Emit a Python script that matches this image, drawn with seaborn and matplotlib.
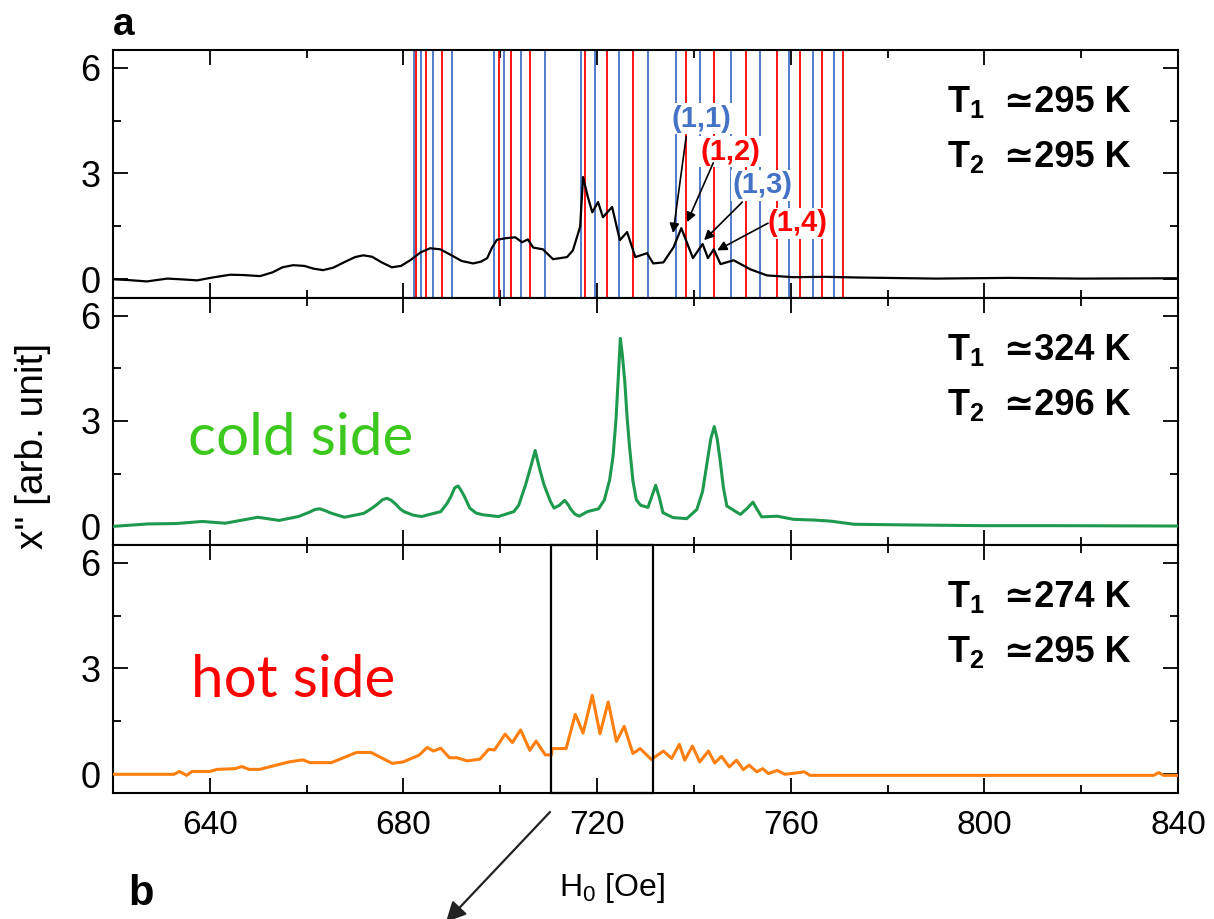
import matplotlib
matplotlib.use("Agg")
import matplotlib.pyplot as plt
import matplotlib.transforms as mtransforms
from matplotlib.patches import Rectangle, FancyArrowPatch
from matplotlib.ticker import MultipleLocator
from matplotlib import font_manager
import seaborn as sns
import pandas as pd

# ---------------- data ----------------
# Field axis (Oe) and absorption spectra chi'' (arb. unit)
h_room = [620, 623.0, 627.0, 631.2, 634.0, 637.4, 640.5, 644.2, 647.0, 650.4, 653.0,
          655.0, 657.2, 659.5, 661.5, 663.4, 665.5, 668.0, 670.0, 671.7, 673.5, 675.5,
          677.6, 679.5, 681.4, 683.5, 685.5, 687.6, 690.2, 692.0, 694.4, 696.0, 697.3,
          698.3, 699.3, 701.4, 703.1, 704.5, 705.7, 706.8, 708.8, 710.9, 713.8, 715.0,
          716.5, 717.1, 718.1, 719.0, 720.2, 721.2, 723.1, 724.7, 726.2, 727.9, 730.3,
          731.6, 733.7, 735.8, 737.4, 739.8, 741.8, 742.9, 744.1, 745.5, 748.2, 751.7,
          755.1, 760.5, 767.0, 774.3, 790.0, 805.0, 820.0, 840.0]
chi_room = [0.00, -0.02, -0.06, 0.02, 0.00, -0.03, 0.05, 0.13, 0.12, 0.09, 0.20,
            0.34, 0.40, 0.38, 0.30, 0.26, 0.33, 0.50, 0.63, 0.68, 0.64, 0.48,
            0.34, 0.38, 0.54, 0.76, 0.88, 0.85, 0.66, 0.52, 0.45, 0.50, 0.60,
            0.90, 1.12, 1.17, 1.19, 1.05, 1.13, 0.90, 0.85, 0.57, 0.63, 0.82,
            1.49, 2.90, 2.33, 1.90, 2.19, 1.76, 2.05, 1.11, 1.34, 0.63, 0.74,
            0.45, 0.48, 0.91, 1.45, 0.60, 1.00, 0.60, 0.85, 0.43, 0.54, 0.28,
            0.11, 0.06, 0.07, 0.05, 0.02, 0.04, 0.02, 0.03]

h_cold = [620, 627.3, 633.0, 638.4, 643.2, 649.9, 654.3, 658.3, 660.5, 661.7, 662.7,
          663.8, 665.0, 667.8, 671.8, 673.3, 674.5, 675.7, 676.6, 677.5, 678.5, 679.3,
          680.1, 682.0, 683.7, 687.7, 689.0, 689.8, 690.6, 691.3, 692.0, 692.6, 693.7,
          695.0, 696.4, 699.6, 702.8, 703.8, 705.2, 706.3, 707.2, 708.2, 709.0, 709.6,
          710.4, 711.1, 712.2, 713.3, 714.0, 714.5, 715.4, 716.3, 718.0, 720.3, 721.5,
          722.6, 723.3, 723.9, 724.4, 724.8, 725.2, 725.7, 726.2, 726.7, 727.4, 728.1,
          729.0, 730.5, 731.3, 732.1, 732.9, 733.6, 735.7, 738.5, 740.6, 741.8, 742.6,
          743.5, 744.2, 744.8, 745.4, 746.1, 746.8, 749.6, 750.9, 752.2, 753.2, 754.0,
          757.2, 760.6, 764.8, 768.2, 773.1, 785.0, 800.0, 815.0, 840.0]
chi_cold = [0.00, 0.07, 0.08, 0.14, 0.09, 0.26, 0.17, 0.28, 0.40, 0.48, 0.50,
            0.45, 0.38, 0.26, 0.37, 0.50, 0.62, 0.76, 0.80, 0.74, 0.62, 0.50,
            0.42, 0.32, 0.28, 0.42, 0.65, 0.85, 1.10, 1.15, 1.00, 0.85, 0.52,
            0.38, 0.33, 0.28, 0.42, 0.60, 1.17, 1.70, 2.16, 1.60, 1.20, 0.98,
            0.70, 0.52, 0.60, 0.74, 0.62, 0.50, 0.35, 0.29, 0.42, 0.50, 0.75,
            1.33, 2.00, 3.03, 4.30, 5.35, 4.90, 4.16, 3.10, 2.27, 1.30, 0.76,
            0.60, 0.54, 0.85, 1.17, 0.80, 0.39, 0.25, 0.22, 0.48, 1.00, 1.71,
            2.50, 2.84, 2.50, 1.90, 1.10, 0.58, 0.34, 0.50, 0.69, 0.45, 0.27,
            0.29, 0.20, 0.18, 0.15, 0.06, 0.04, 0.02, 0.02, 0.01]

h_hot = [620, 632.6, 633.7, 635.2, 636.3, 640.0, 641.5, 645.2, 646.6, 648.1, 650.3,
         656.3, 659.2, 660.7, 665.1, 670.3, 673.3, 677.7, 679.9, 683.2, 684.9, 686.2,
         687.7, 689.5, 691.0, 693.2, 695.8, 697.6, 698.8, 701.0, 702.5, 704.2, 706.1,
         707.4, 709.3, 710.6, 710.7, 713.6, 715.5, 717.1, 719.0, 720.6, 722.3, 724.0,
         725.6, 727.4, 728.9, 731.2, 733.7, 735.4, 737.0, 738.1, 739.7, 741.2, 743.0,
         744.3, 745.7, 747.3, 748.8, 750.2, 751.4, 753.0, 754.2, 755.4, 757.2, 758.8,
         761.2, 762.8, 764.0, 800.0, 835.0, 836.0, 837.0, 840.0]
chi_hot = [0.00, 0.00, 0.08, -0.03, 0.08, 0.08, 0.14, 0.16, 0.22, 0.14, 0.14,
           0.35, 0.41, 0.33, 0.33, 0.62, 0.62, 0.31, 0.35, 0.54, 0.76, 0.66,
           0.74, 0.47, 0.47, 0.38, 0.43, 0.71, 0.69, 1.14, 0.90, 1.26, 0.68,
           0.94, 0.55, 0.55, 0.73, 0.73, 1.70, 1.17, 2.24, 1.15, 2.05, 0.93,
           1.36, 0.59, 0.73, 0.42, 0.66, 0.45, 0.85, 0.40, 0.80, 0.35, 0.66,
           0.32, 0.51, 0.21, 0.40, 0.13, 0.26, 0.07, 0.16, 0.02, 0.11, 0.00,
           0.04, 0.07, -0.03, -0.03, -0.03, 0.05, -0.03, -0.03]

# Calculated mode positions (Oe)
modes_blue = [682.2, 683.6, 686.0, 690.0, 698.8, 700.8, 704.2, 709.3, 716.7, 719.6,
              724.5, 730.5, 736.3, 741.3, 747.7, 753.7, 759.7, 764.5, 769.0]
modes_red = [682.5, 684.6, 688.0, 699.8, 702.3, 706.2, 717.6, 722.0, 727.4, 738.4,
             744.2, 750.7, 757.1, 761.9, 766.4, 770.9]

# Mode labels: text, colour, label position, arrow tail, arrow tip
mode_names = ["(1,1)", "(1,2)", "(1,3)", "(1,4)"]
mode_colors = ["#4472C4", "#FF0000", "#4472C4", "#FF0000"]
mode_text_pos = [(741.5, 4.55), (747.5, 3.61), (754.1, 2.67), (761.3, 1.59)]
mode_tail = [(738.4, 4.04), (744.0, 3.30), (750.0, 2.19), (755.3, 1.59)]
mode_tip = [(735.7, 1.31), (738.6, 1.62), (742.1, 1.11), (744.8, 0.82)]

temps_t1 = ["295", "324", "274"]
temps_t2 = ["295", "296", "295"]
zoom_window = (710.5, 731.5)

x_major = [640, 680, 720, 760, 800, 840]

# ---------------- style ----------------
sns.set_style("ticks")
names = {f.name for f in font_manager.fontManager.ttflist}
narrow = "Liberation Sans Narrow" if "Liberation Sans Narrow" in names else None
base_font = "Liberation Sans"
plt.rcParams["font.family"] = [base_font, "DejaVu Sans"]
plt.rcParams["text.color"] = "black"
plt.rcParams["axes.labelcolor"] = "black"
plt.rcParams["xtick.color"] = "black"
plt.rcParams["ytick.color"] = "black"
plt.rcParams["mathtext.fontset"] = "custom"
plt.rcParams["mathtext.rm"] = narrow or base_font
plt.rcParams["mathtext.bf"] = base_font + ":bold"
plt.rcParams["mathtext.it"] = base_font + ":italic"

W, H = 1214, 919
fig = plt.figure(figsize=(W / 100, H / 100), dpi=100)

left, right = 113 / W, 1178 / W
panel_px = [(50, 298), (298, 545), (545, 793)]
axes = []
for top, bot in panel_px:
    ax = fig.add_axes([left, 1 - bot / H, right - left, (bot - top) / H])
    axes.append(ax)

series = [(h_room, chi_room, "black", 1.6),
          (h_cold, chi_cold, "#1E9A4E", 2.2),
          (h_hot, chi_hot, "#FF7F0E", 2.2)]

for ax, (hx, cy, col, lw) in zip(axes, series):
    df = pd.DataFrame({"H": hx, "chi": cy})
    sns.lineplot(data=df, x="H", y="chi", ax=ax, color=col, lw=lw,
                 estimator=None, sort=False, zorder=3)
    ax.set_xlim(620, 840)
    ax.set_ylim(-0.53, 6.5)
    ax.set_xlabel("")
    ax.set_ylabel("")
    ax.set_xticks(x_major)
    ax.xaxis.set_minor_locator(MultipleLocator(20))
    ax.set_yticks([0, 3, 6])
    ax.yaxis.set_minor_locator(MultipleLocator(1.5))
    ax.tick_params(which="both", direction="in", top=True, right=True,
                   width=1.3, colors="black")
    ax.tick_params(which="major", length=11)
    ax.tick_params(which="minor", length=5.5)
    ax.tick_params(axis="y", labelsize=26, pad=9)
    for s in ax.spines.values():
        s.set_linewidth(1.5)
        s.set_color("black")
    for lab in ax.get_yticklabels():
        lab.set_fontfamily(base_font)

for ax in axes[:2]:
    ax.tick_params(axis="x", labelbottom=False)

axb = axes[2]
axb.tick_params(axis="x", labelsize=(27 if narrow else 24), pad=12)
for lab in axb.get_xticklabels():
    lab.set_fontfamily(narrow or base_font)

# mode lines in the top panel
ax0 = axes[0]
for hb in modes_blue:
    ax0.axvline(hb, color="#4472C4", lw=1.3, zorder=1)
for hr in modes_red:
    ax0.axvline(hr, color="#FF0000", lw=1.3, zorder=1)

for name, col, tp, tail, tip in zip(mode_names, mode_colors, mode_text_pos,
                                    mode_tail, mode_tip):
    ax0.annotate("", xy=tip, xytext=tail,
                 arrowprops=dict(arrowstyle="-|>", color="black", lw=1.2,
                                 mutation_scale=14, shrinkA=0, shrinkB=0),
                 zorder=5)
    ax0.text(tp[0], tp[1], name, color=col, fontsize=21, fontweight="bold",
             ha="center", va="center", zorder=4,
             bbox=dict(boxstyle="square,pad=0.05", fc="white", ec="none"))

# window marked in the bottom panel
trans = mtransforms.blended_transform_factory(axb.transData, axb.transAxes)
axb.add_patch(Rectangle((zoom_window[0], 0), zoom_window[1] - zoom_window[0], 1,
                        transform=trans, fill=False, ec="black", lw=1.6,
                        clip_on=False, zorder=6))

# temperature labels
for (top, bot), t1, t2 in zip(panel_px, temps_t1, temps_t2):
    for k, (sub, val) in enumerate([("1", t1), ("2", t2)]):
        yb = 1 - (top + 62 + 55 * k) / H
        fig.text(947 / W, yb, r"$\mathbf{T}_{\mathbf{%s}}$" % sub, fontsize=26,
                 ha="left", va="baseline")
        fig.text(1131 / W, yb, "\u2243" + val + " K", fontsize=26,
                 fontweight="bold", ha="right", va="baseline",
                 family=[base_font, "DejaVu Sans"])

# side labels
fig.text(188 / W, 1 - 455 / H, "cold side", fontsize=42, color="#3CC81E",
         family=["Lato", "Open Sans"], ha="left", va="baseline")
fig.text(191 / W, 1 - 697 / H, "hot side", fontsize=42, color="#FF0000",
         family=["Lato", "Open Sans"], ha="left", va="baseline")

# axis titles and panel letters
fig.text(33 / W, 1 - 446 / H, 'x" [arb. unit]', fontsize=28, rotation=90,
         ha="center", va="center", family=base_font)
fig.text(612 / W, 1 - 888 / H, r"H$_0$ [Oe]", fontsize=(25 if narrow else 23),
         ha="center", va="center", family=narrow or base_font)
fig.text(113 / W, 1 - 35 / H, "a", fontsize=28, fontweight="bold",
         ha="left", va="baseline")
fig.text(128 / W, 1 - 905 / H, "b", fontsize=30, fontweight="bold",
         ha="left", va="baseline")

fig.patches.append(FancyArrowPatch(
    (550 / W, 1 - 812 / H), (446 / W, 1 - 922 / H),
    transform=fig.transFigure, arrowstyle="-|>", mutation_scale=30,
    color="#222222", lw=1.6, shrinkA=0, shrinkB=0))

fig.savefig("out.png", dpi=100)
